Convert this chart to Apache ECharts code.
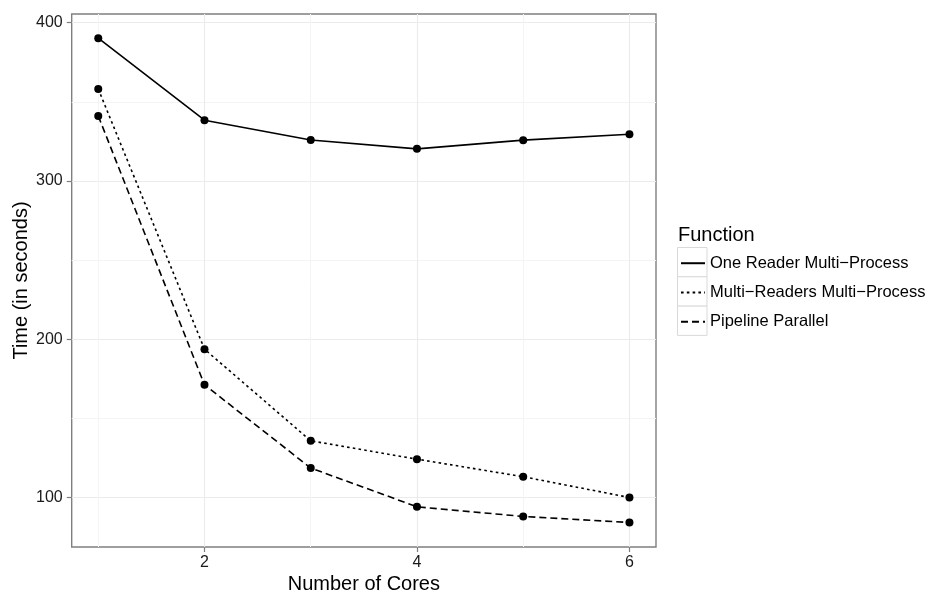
<!DOCTYPE html>
<html>
<head>
<meta charset="utf-8">
<script src="https://cdn.jsdelivr.net/npm/echarts@6/dist/echarts.min.js"></script>
<style>
html,body{margin:0;padding:0;background:#fff;}
#chart{width:928px;height:592px;}
</style>
</head>
<body>
<div id="chart"></div>
<script>
var cores = [1, 2, 3, 4, 5, 6];
var oneReader = [390.2, 338.4, 325.9, 320.3, 325.8, 329.5];
var multiReaders = [358.1, 193.7, 135.8, 124.2, 113.1, 100.0];
var pipeline = [341.1, 171.2, 118.6, 94.1, 88.0, 84.2];
var seriesNames = ['One Reader Multi\u2212Process', 'Multi\u2212Readers Multi\u2212Process', 'Pipeline Parallel'];
var xMajorTicks = [2, 4, 6];
var xMinorTicks = [1, 3, 5];
var yMajorTicks = [100, 200, 300, 400];
var yMinorTicks = [150, 250, 350];

var FONT = '"Liberation Sans", Arial, Helvetica, sans-serif';
function pairs(vals) { return cores.map(function (c, i) { return [c, vals[i]]; }); }

var allSeries = [oneReader, multiReaders, pipeline];
var dashTypes = ['solid', [2.6, 3.2], [7, 4]];

var series = [];
allSeries.forEach(function (vals, i) {
  series.push({
    name: seriesNames[i], type: 'line', data: pairs(vals),
    showSymbol: false,
    lineStyle: { color: '#000', width: 1.6, type: dashTypes[i] },
    itemStyle: { color: '#000' },
    emphasis: { disabled: true }, animation: false, z: 3
  });
});
allSeries.forEach(function (vals, i) {
  series.push({
    type: 'scatter', data: pairs(vals), symbol: 'circle', symbolSize: 8,
    itemStyle: { color: '#000', opacity: 1 }, emphasis: { disabled: true }, animation: false, z: 4
  });
});

var chart = echarts.init(document.getElementById('chart'), null, { renderer: 'canvas' });
chart.setOption({
  backgroundColor: '#fff',
  animation: false,
  textStyle: { fontFamily: FONT },
  title: {
    text: 'Function', left: 673, top: 220,
    textStyle: { fontFamily: FONT, fontSize: 20, fontWeight: 'normal', color: '#000' }
  },
  legend: {
    orient: 'vertical', left: 680, top: 250.5, padding: 0,
    itemWidth: 24, itemHeight: 29.3, itemGap: 3.8,
    itemStyle: { opacity: 0 },
    textStyle: { fontFamily: FONT, fontSize: 16.5, color: '#000', padding: [0, 0, 0, 0] },
    data: seriesNames, selectedMode: false
  },
  graphic: [0, 1, 2].map(function (i) {
    return {
      type: 'rect', left: 677, top: 247 + i * 29.3, z: -1,
      shape: { width: 29.5, height: 29.3 },
      style: { fill: '#fff', stroke: '#d9d9d9', lineWidth: 1 }
    };
  }),
  grid: {
    left: 71.7, right: 272, top: 14, bottom: 45,
    outerBoundsMode: 'none', containLabel: false,
    show: true, borderColor: '#7f7f7f', borderWidth: 1.4, backgroundColor: '#fff'
  },
  xAxis: [{
    type: 'value', min: 0.75, max: 6.25,
    name: 'Number of Cores', nameLocation: 'middle', nameGap: 27, nameMoveOverlap: false,
    nameTextStyle: { fontFamily: FONT, fontSize: 20, color: '#000' },
    axisLine: { show: false },
    axisTick: { show: true, customValues: xMajorTicks, length: 5, lineStyle: { color: '#7f7f7f', width: 1.2 } },
    axisLabel: { customValues: xMajorTicks, fontSize: 16, color: '#1a1a1a', margin: 8, fontFamily: FONT },
    splitLine: { show: true, lineStyle: { color: '#ebebeb', width: 1.1 } }
  }, {
    type: 'value', min: 0.75, max: 6.25, position: 'top',
    axisLine: { show: false }, axisLabel: { show: false },
    axisTick: { show: false, customValues: xMinorTicks },
    splitLine: { show: true, lineStyle: { color: '#f4f4f4', width: 1 } }
  }],
  yAxis: [{
    type: 'value', min: 68.7, max: 405.5,
    name: 'Time (in seconds)', nameLocation: 'middle', nameGap: 40, nameMoveOverlap: false,
    nameTextStyle: { fontFamily: FONT, fontSize: 20, color: '#000' },
    axisLine: { show: false },
    axisTick: { show: true, customValues: yMajorTicks, length: 5, lineStyle: { color: '#7f7f7f', width: 1.2 } },
    axisLabel: { customValues: yMajorTicks, fontSize: 16, color: '#1a1a1a', margin: 9, fontFamily: FONT },
    splitLine: { show: true, lineStyle: { color: '#ebebeb', width: 1.1 } }
  }, {
    type: 'value', min: 68.7, max: 405.5, position: 'right',
    axisLine: { show: false }, axisLabel: { show: false },
    axisTick: { show: false, customValues: yMinorTicks },
    splitLine: { show: true, lineStyle: { color: '#f4f4f4', width: 1 } }
  }],
  series: series
});
</script>
</body>
</html>
